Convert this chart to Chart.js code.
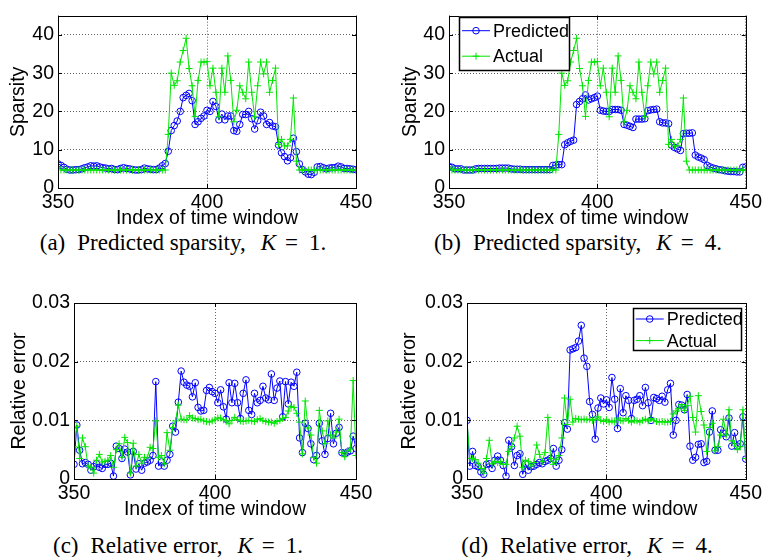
<!DOCTYPE html>
<html>
<head>
<meta charset="utf-8">
<script src="https://cdn.jsdelivr.net/npm/chart.js@4.4.1/dist/chart.umd.min.js"></script>
<style>
  body { margin: 0; background: #fff; width: 765px; height: 557px; position: relative; overflow: hidden; }
  canvas { position: absolute; }
  .cap { position: absolute; font-family: 'Liberation Serif', 'Times New Roman', serif; font-size: 23px;
         white-space: nowrap; transform: translate(-50%, -50%); color: #000; }
  .cap i { font-style: italic; }
  .gap { display: inline-block; }
</style>
</head>
<body>
<canvas id="chartA" width="380" height="230" style="left:0;top:0"></canvas>
<canvas id="chartB" width="385" height="230" style="left:380px;top:0"></canvas>
<canvas id="chartC" width="380" height="241" style="left:0;top:280px"></canvas>
<canvas id="chartD" width="385" height="241" style="left:380px;top:280px"></canvas>

<div class="cap" style="left:183px;top:243px">(a)<span class="gap" style="width:12px"></span>Predicted sparsity,<span class="gap" style="width:15px"></span><i>K</i><span class="gap" style="width:9px"></span>=<span class="gap" style="width:11px"></span>1.</div>
<div class="cap" style="left:578px;top:243px">(b)<span class="gap" style="width:12px"></span>Predicted sparsity,<span class="gap" style="width:15px"></span><i>K</i><span class="gap" style="width:9px"></span>=<span class="gap" style="width:11px"></span>4.</div>
<div class="cap" style="left:178px;top:546px">(c)<span class="gap" style="width:12px"></span>Relative error,<span class="gap" style="width:15px"></span><i>K</i><span class="gap" style="width:9px"></span>=<span class="gap" style="width:11px"></span>1.</div>
<div class="cap" style="left:587px;top:546px">(d)<span class="gap" style="width:12px"></span>Relative error,<span class="gap" style="width:15px"></span><i>K</i><span class="gap" style="width:9px"></span>=<span class="gap" style="width:11px"></span>4.</div>

<script>
// time window index 350..450
var windows = [];
for (var w = 350; w <= 450; w++) windows.push(w);

var windowTicks = [350, 400, 450];
var sparsityTicks = [0, 10, 20, 30, 40];
var errorTicks = [0, 0.01, 0.02, 0.03];

// actual sparsity (same in a and b)
var sparsityActual = [
  5.5, 4.7, 4.7, 4.7, 4.7, 4.7, 4.7, 4.7, 4.7, 4.7,
  4.7, 4.7, 4.7, 4.7, 4.7, 4.7, 4.7, 4.7, 4.7, 4.7,
  4.7, 4.7, 4.7, 4.7, 4.7, 4.7, 4.7, 4.7, 4.7, 4.7,
  4.7, 4.7, 4.7, 4.7, 4.7, 4.7, 4.7, 14, 30, 26.8,
  28, 32.9, 35.9, 39.1, 31.2, 26.7, 18.7, 28.1, 32.9, 32.9,
  33, 26.7, 31.3, 25, 18.6, 31.3, 25, 34.5, 28.1, 17.3,
  20.3, 26.7, 25, 23.3, 32.9, 25, 18.6, 26.7, 32.9, 29.8,
  32.9, 25, 28.1, 31.3, 11.4, 12.7, 11, 11, 12.7, 23.5,
  7, 4.7, 4.7, 4.7, 4.7, 4.7, 4.7, 4.7, 4.7, 4.7,
  4.7, 4.7, 4.7, 4.7, 4.7, 4.7, 4.7, 4.7, 4.7, 4.7,
  4.7
];
// predicted sparsity, K = 1
var sparsityPredK1 = [
  6.3, 5.9, 5.4, 4.9, 4.7, 4.7, 4.8, 4.8, 5.0, 5.3,
  5.5, 5.8, 5.7, 5.8, 5.5, 5.3, 5.2, 5.0, 5.1, 4.8,
  4.8, 5.1, 5.3, 5.1, 5.0, 4.8, 4.7, 4.7, 4.8, 5.2,
  5.0, 4.9, 4.8, 4.8, 5.2, 5.8, 6.4, 9.6, 15.0, 16.3,
  17.5, 20.0, 23.6, 24.2, 24.7, 22.8, 16.6, 17.3, 18.2, 18.8,
  20.3, 20.0, 22.6, 21.3, 17.8, 19.3, 17.8, 18.8, 18.8, 15.0,
  14.8, 16.6, 19.2, 19.2, 20.0, 18.1, 15.4, 17.6, 19.8, 18.8,
  16.6, 17.1, 16.2, 16.0, 11.2, 9.2, 8.2, 7.1, 7.9, 13.0,
  9.5, 6.3, 4.8, 4.2, 3.6, 3.5, 4.1, 5.5, 5.6, 5.3,
  5.0, 5.2, 5.3, 5.3, 5.7, 5.5, 5.1, 5.1, 5.0, 4.9,
  4.8
];
// predicted sparsity, K = 4
var sparsityPredK4 = [
  5.6, 5.4, 5.0, 5.0, 5.0, 4.7, 4.7, 4.7, 4.7, 5.0,
  5.1, 5.1, 5.1, 5.1, 5.1, 5.1, 5.1, 5.2, 5.2, 5.2,
  5.2, 5.0, 4.9, 4.9, 4.9, 4.8, 4.8, 4.8, 4.8, 4.8,
  4.8, 4.8, 4.8, 4.8, 4.8, 5.9, 6.0, 6.1, 6.1, 11.3,
  11.8, 12.2, 12.5, 21.8, 22.6, 23.3, 24.3, 23.0, 23.3, 23.6,
  24.0, 20.3, 20.1, 20.0, 20.0, 20.5, 20.5, 20.5, 20.3, 16.6,
  16.4, 16.1, 15.8, 18.0, 18.0, 18.0, 18.1, 20.2, 20.4, 20.5,
  20.6, 17.3, 17.0, 17.0, 16.8, 11.2, 10.6, 10.2, 9.8, 14.2,
  14.3, 14.3, 14.4, 8.6, 8.1, 7.8, 7.4, 5.9, 5.5, 5.2,
  5.0, 4.8, 4.7, 4.5, 4.4, 4.3, 4.3, 4.2, 4.2, 5.4,
  5.5
];
// relative error, K = 1
var errorPredK1 = [
  0.0025, 0.0092, 0.0049, 0.0026, 0.0028, 0.0025, 0.0015, 0.0021, 0.0026, 0.0020,
  0.0018, 0.0025, 0.0025, 0.0027, 0.0005, 0.0056, 0.0052, 0.0035, 0.0051, 0.0046,
  0.0007, 0.0047, 0.0017, 0.0026, 0.0015, 0.0027, 0.0029, 0.0032, 0.0040, 0.0166,
  0.0022, 0.0029, 0.0022, 0.0032, 0.0042, 0.0090, 0.0080, 0.0131, 0.0184, 0.0165,
  0.0160, 0.0158, 0.0140, 0.0164, 0.0122, 0.0116, 0.0117, 0.0151, 0.0156, 0.0149,
  0.0146, 0.0130, 0.0152, 0.0123, 0.0102, 0.0164, 0.0130, 0.0163, 0.0130, 0.0103,
  0.0146, 0.0169, 0.0117, 0.0110, 0.0146, 0.0130, 0.0134, 0.0158, 0.0138, 0.0135,
  0.0179, 0.0134, 0.0155, 0.0167, 0.0106, 0.0166, 0.0128, 0.0165, 0.0158, 0.0182,
  0.0070, 0.0045, 0.0095, 0.0086, 0.0060, 0.0033, 0.0040, 0.0095, 0.0065, 0.0042,
  0.0069, 0.0112, 0.0060, 0.0078, 0.0088, 0.0045, 0.0043, 0.0046, 0.0048, 0.0073,
  0.0052
];
var errorActualK1 = [
  0.0055, 0.0090, 0.0035, 0.0070, 0.0055, 0.0022, 0.0020, 0.0010, 0.0032, 0.0042,
  0.0029, 0.0030, 0.0032, 0.0040, 0.0020, 0.0050, 0.0060, 0.0037, 0.0071, 0.0062,
  0.0010, 0.0061, 0.0022, 0.0042, 0.0027, 0.0037, 0.0036, 0.0054, 0.0052, 0.0099,
  0.0037, 0.0040, 0.0026, 0.0079, 0.0049, 0.0088, 0.0099, 0.0126, 0.0102, 0.0101,
  0.0101, 0.0108, 0.0104, 0.0103, 0.0101, 0.0102, 0.0099, 0.0098, 0.0097, 0.0099,
  0.0101, 0.0104, 0.0104, 0.0101, 0.0099, 0.0094, 0.0100, 0.0105, 0.0101, 0.0099,
  0.0098, 0.0099, 0.0100, 0.0099, 0.0098, 0.0101, 0.0103, 0.0100, 0.0098, 0.0097,
  0.0097, 0.0095, 0.0098, 0.0100, 0.0103, 0.0105, 0.0116, 0.0124, 0.0122, 0.0112,
  0.0097, 0.0043, 0.0133, 0.0087, 0.0075, 0.0037, 0.0027, 0.0117, 0.0082, 0.0060,
  0.0099, 0.0075, 0.0070, 0.0080, 0.0102, 0.0045, 0.0038, 0.0048, 0.0051, 0.0168,
  0.0040
];
// relative error, K = 4
var errorPredK4 = [
  0.0100, 0.0022, 0.0047, 0.0023, 0.0021, 0.0012, 0.0008, 0.0025, 0.0026, 0.0018,
  0.0032, 0.0039, 0.0032, 0.0023, 0.0005, 0.0066, 0.0055, 0.0023, 0.0040, 0.0043,
  0.0008, 0.0026, 0.0015, 0.0021, 0.0022, 0.0025, 0.0028, 0.0026, 0.0030, 0.0032,
  0.0035, 0.0052, 0.0022, 0.0032, 0.0050, 0.0096, 0.0085, 0.0220, 0.0222, 0.0224,
  0.0235, 0.0262, 0.0206, 0.0192, 0.0132, 0.0110, 0.0068, 0.0121, 0.0138, 0.0128,
  0.0135, 0.0122, 0.0173, 0.0136, 0.0086, 0.0154, 0.0113, 0.0142, 0.0134, 0.0103,
  0.0134, 0.0136, 0.0142, 0.0125, 0.0156, 0.0130, 0.0100, 0.0139, 0.0137, 0.0134,
  0.0141, 0.0131, 0.0152, 0.0163, 0.0075, 0.0100, 0.0127, 0.0126, 0.0118, 0.0144,
  0.0056, 0.0032, 0.0037, 0.0059, 0.0060, 0.0028, 0.0030, 0.0080, 0.0116, 0.0049,
  0.0049, 0.0084, 0.0078, 0.0072, 0.0104, 0.0056, 0.0079, 0.0056, 0.0060, 0.0106,
  0.0034
];
var errorActualK4 = [
  0.0100, 0.0035, 0.0035, 0.0033, 0.0027, 0.0018, 0.0010, 0.0035, 0.0066, 0.0026,
  0.0030, 0.0028, 0.0030, 0.0025, 0.0025, 0.0047, 0.0055, 0.0070, 0.0090, 0.0073,
  0.0020, 0.0032, 0.0030, 0.0022, 0.0028, 0.0058, 0.0042, 0.0030, 0.0045, 0.0105,
  0.0035, 0.0025, 0.0033, 0.0040, 0.0070, 0.0138, 0.0093, 0.0136, 0.0097, 0.0103,
  0.0102, 0.0101, 0.0102, 0.0101, 0.0102, 0.0100, 0.0101, 0.0106, 0.0100, 0.0098,
  0.0101, 0.0097, 0.0099, 0.0097, 0.0104, 0.0100, 0.0099, 0.0103, 0.0100, 0.0097,
  0.0100, 0.0099, 0.0097, 0.0100, 0.0102, 0.0099, 0.0103, 0.0100, 0.0098, 0.0097,
  0.0098, 0.0097, 0.0097, 0.0098, 0.0111, 0.0116, 0.0120, 0.0127, 0.0117, 0.0125,
  0.0141, 0.0105, 0.0080, 0.0142, 0.0115, 0.0092, 0.0047, 0.0088, 0.0095, 0.0048,
  0.0055, 0.0075, 0.0102, 0.0075, 0.0118, 0.0065, 0.0060, 0.0050, 0.0055, 0.0118,
  0.0035
];

var FONT = "'Liberation Sans', Arial, Helvetica, sans-serif";
var FS = 19.5;
var BLUE = '#0000ff';
var GREEN = '#00e600';

function toPoints(values) {
  return windows.map(function (x, i) { return { x: x, y: values[i] }; });
}

// box around the axes with small inward ticks, plus the legend inside the plot
var framePlugin = {
  id: 'frame',
  afterDraw: function (chart, args, opts) {
    var ctx = chart.ctx, a = chart.chartArea;
    var xs = chart.scales.x, ys = chart.scales.y;
    ctx.save();
    ctx.strokeStyle = '#000';
    ctx.lineWidth = 1;
    ctx.beginPath();
    windowTicks.forEach(function (v) {
      var px = Math.round(xs.getPixelForValue(v)) + 0.5;
      ctx.moveTo(px, a.bottom); ctx.lineTo(px, a.bottom - 4);
      ctx.moveTo(px, a.top); ctx.lineTo(px, a.top + 4);
    });
    opts.yTicks.forEach(function (v) {
      var py = Math.round(ys.getPixelForValue(v)) + 0.5;
      ctx.moveTo(a.left, py); ctx.lineTo(a.left + 4, py);
      ctx.moveTo(a.right, py); ctx.lineTo(a.right - 4, py);
    });
    ctx.stroke();
    ctx.strokeRect(Math.round(a.left) + 0.5, Math.round(a.top) + 0.5,
      Math.round(a.right - a.left), Math.round(a.bottom - a.top));

    var lg = opts.legend;
    if (lg) {
      var bx = lg.fromRight ? a.right - lg.dx - lg.w : a.left + lg.dx;
      var by = a.top + lg.dy;
      ctx.fillStyle = '#fff';
      ctx.fillRect(bx, by, lg.w, lg.h);
      ctx.lineWidth = 1.5;
      ctx.strokeRect(Math.round(bx) + 0.5, Math.round(by) + 0.5, lg.w, lg.h);
      ctx.font = '18px ' + FONT;
      ctx.textBaseline = 'middle';
      chart.data.datasets.forEach(function (ds, i) {
        var ry = by + lg.row0 + i * lg.rowH;
        var x0 = bx + 3, x1 = bx + 3 + lg.lineLen, xm = (x0 + x1) / 2;
        ctx.strokeStyle = ds.borderColor;
        ctx.lineWidth = 1;
        ctx.beginPath(); ctx.moveTo(x0, ry); ctx.lineTo(x1, ry); ctx.stroke();
        ctx.beginPath();
        if (ds.pointStyle === 'circle') {
          ctx.arc(xm, ry, 3.3, 0, Math.PI * 2);
        } else {
          ctx.moveTo(xm - 3.5, ry); ctx.lineTo(xm + 3.5, ry);
          ctx.moveTo(xm, ry - 3.5); ctx.lineTo(xm, ry + 3.5);
        }
        ctx.stroke();
        ctx.fillStyle = '#000';
        ctx.fillText(ds.label, x1 + 3, ry + 1);
      });
    }
    ctx.restore();
  }
};

function makeChart(id, pred, actual, yMax, yTicks, yTitle, geo, legend) {
  var ctx = document.getElementById(id).getContext('2d');
  return new Chart(ctx, {
    type: 'line',
    data: {
      datasets: [{
        label: 'Predicted',
        data: toPoints(pred),
        borderColor: BLUE,
        backgroundColor: 'rgba(0,0,0,0)',
        borderWidth: 1,
        pointStyle: 'circle',
        pointRadius: 3.3,
        pointBorderWidth: 1,
        pointBackgroundColor: 'rgba(0,0,0,0)',
        pointBorderColor: BLUE,
        tension: 0,
        order: 2
      }, {
        label: 'Actual',
        data: toPoints(actual),
        borderColor: GREEN,
        backgroundColor: 'rgba(0,0,0,0)',
        borderWidth: 1,
        pointStyle: 'cross',
        pointRadius: 3.5,
        pointBorderWidth: 1,
        pointBorderColor: GREEN,
        tension: 0,
        order: 1
      }]
    },
    options: {
      responsive: false,
      animation: false,
      devicePixelRatio: 1,
      layout: { padding: { top: geo.padTop, right: geo.padRight, left: 0, bottom: 0 } },
      plugins: {
        legend: { display: false },
        tooltip: { enabled: false },
        frame: { yTicks: yTicks, legend: legend }
      },
      scales: {
        x: {
          type: 'linear',
          min: 350, max: 450,
          afterBuildTicks: function (s) { s.ticks = windowTicks.map(function (v) { return { value: v }; }); },
          afterFit: function (s) { s.height = geo.xAxisH; },
          grid: { color: '#666', drawTicks: false, lineWidth: 1 },
          border: { display: false, dash: [1, 2] },
          ticks: { font: { family: FONT, size: FS }, color: '#000', padding: 3, maxRotation: 0 },
          title: { display: true, text: 'Index of time window', font: { family: FONT, size: FS }, color: '#000', padding: 0 }
        },
        y: {
          min: 0, max: yMax,
          afterBuildTicks: function (s) { s.ticks = yTicks.map(function (v) { return { value: v }; }); },
          afterFit: function (s) { s.width = geo.yAxisW; },
          grid: { color: '#666', drawTicks: false, lineWidth: 1 },
          border: { display: false, dash: [1, 2] },
          ticks: {
            font: { family: FONT, size: FS }, color: '#000', padding: 4,
            callback: function (v) { return v === 0 ? '0' : (yMax < 1 ? v.toFixed(2) : String(v)); }
          },
          title: { display: true, text: yTitle, font: { family: FONT, size: FS }, color: '#000', padding: { top: geo.yTitlePad, bottom: 0 } }
        }
      }
    },
    plugins: [framePlugin]
  });
}

makeChart('chartA', sparsityPredK1, sparsityActual, 45, sparsityTicks, 'Sparsity',
  { padTop: 12, padRight: 24, xAxisH: 42, yAxisW: 58, yTitlePad: 7 }, null);
makeChart('chartB', sparsityPredK4, sparsityActual, 45, sparsityTicks, 'Sparsity',
  { padTop: 12, padRight: 17, xAxisH: 42, yAxisW: 69, yTitlePad: 19 },
  { fromRight: false, dx: 10, dy: 1, w: 110, h: 53, row0: 14, rowH: 25.5, lineLen: 28 });
makeChart('chartC', errorPredK1, errorActualK1, 0.03, errorTicks, 'Relative error',
  { padTop: 23, padRight: 24, xAxisH: 42, yAxisW: 74, yTitlePad: 8 }, null);
makeChart('chartD', errorPredK4, errorActualK4, 0.03, errorTicks, 'Relative error',
  { padTop: 23, padRight: 17, xAxisH: 42, yAxisW: 87, yTitlePad: 18 },
  { fromRight: true, dx: 5, dy: 5, w: 108, h: 42, row0: 11, rowH: 21.6, lineLen: 28 });
</script>
</body>
</html>
